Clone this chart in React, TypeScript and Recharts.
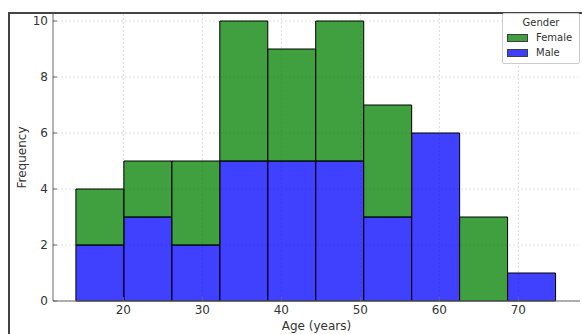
import React from "react";
import {
  BarChart,
  Bar,
  XAxis,
  YAxis,
  CartesianGrid,
  Label,
} from "recharts";

// histogram bin edges (years)
const binEdges = [14.0, 20.07, 26.14, 32.21, 38.28, 44.35, 50.42, 56.49, 62.56, 68.63, 74.7];
const maleCounts = [2, 3, 2, 5, 5, 5, 3, 6, 0, 1];
const femaleCounts = [2, 2, 3, 5, 4, 5, 4, 0, 3, 0];
const xTicks = [20, 30, 40, 50, 60, 70];
const yTicks = [0, 2, 4, 6, 8, 10];
const legendItems = [
  { name: "Female", color: "#008000" },
  { name: "Male", color: "#0000ff" },
];

const chartData = maleCounts.map((m, i) => ({
  mid: (binEdges[i] + binEdges[i + 1]) / 2,
  male: m,
  female: femaleCounts[i],
}));

if (typeof document !== "undefined") document.body.style.margin = "0";

const textColor = "#333333";
const font = "'DejaVu Sans', sans-serif";

function GenderLegend() {
  return (
    <div
      style={{
        position: "absolute",
        left: 502,
        top: 13,
        width: 68,
        background: "rgba(255,255,255,0.85)",
        border: "1px solid #cccccc",
        borderRadius: 2,
        padding: "2px 4px 3px 4px",
        fontFamily: font,
        fontSize: 10,
        color: textColor,
      }}
    >
      <div style={{ textAlign: "center", lineHeight: "14px" }}>Gender</div>
      {legendItems.map((item) => (
        <div key={item.name} style={{ display: "flex", alignItems: "center", height: 15 }}>
          <span
            style={{
              display: "inline-block",
              width: 19,
              height: 6,
              background: item.color,
              opacity: 0.75,
              border: "1px solid #000",
              marginRight: 8,
            }}
          />
          <span>{item.name}</span>
        </div>
      ))}
    </div>
  );
}

export default function App() {
  return (
    <div style={{ position: "relative", width: 582, height: 334, overflow: "hidden", background: "#fff" }}>
      <div style={{ position: "absolute", left: 0, top: 0 }}>
        <BarChart
          width={582}
          height={334}
          data={chartData}
          margin={{ top: 14, right: 2, bottom: 0, left: 0 }}
          barCategoryGap={0}
          barGap={0}
        >
          <CartesianGrid
            stroke="#d6d6d6"
            strokeDasharray="2 2"
            strokeWidth={0.8}
            verticalValues={xTicks}
            horizontalValues={yTicks}
          />
          <XAxis
            dataKey="mid"
            type="number"
            domain={[11.1, 77.8]}
            ticks={xTicks}
            height={33}
            stroke="#666"
            tickSize={-4}
            tickMargin={8}
            tick={{ fill: textColor, fontSize: 12, fontFamily: font }}
          >
            <Label value="Age (years)" position="insideBottom" offset={4} fill={textColor} fontSize={12} fontFamily={font} />
          </XAxis>
          <YAxis
            type="number"
            domain={[0, 10.25]}
            ticks={yTicks}
            width={53}
            stroke="#666"
            tickSize={-4}
            tickMargin={9}
            tick={{ fill: textColor, fontSize: 12, fontFamily: font }}
          >
            <Label value="Frequency" angle={-90} position="insideLeft" offset={22} fill={textColor} fontSize={12} fontFamily={font} style={{ textAnchor: "middle" }} />
          </YAxis>
          <Bar dataKey="male" name="Male" stackId="g" fill="#0000ff" fillOpacity={0.75} stroke="#000" strokeWidth={1} isAnimationActive={false} />
          <Bar dataKey="female" name="Female" stackId="g" fill="#008000" fillOpacity={0.75} stroke="#000" strokeWidth={1} isAnimationActive={false} />
        </BarChart>
      </div>
      <div style={{ position: "absolute", left: 578, top: 15, width: 4, height: 284, background: "#fff" }} />
      <div
        style={{
          position: "absolute",
          left: 8,
          top: 12,
          width: 600,
          height: 400,
          borderTop: "2px solid #444",
          borderLeft: "2px solid #444",
          pointerEvents: "none",
        }}
      />
      <GenderLegend />
    </div>
  );
}
